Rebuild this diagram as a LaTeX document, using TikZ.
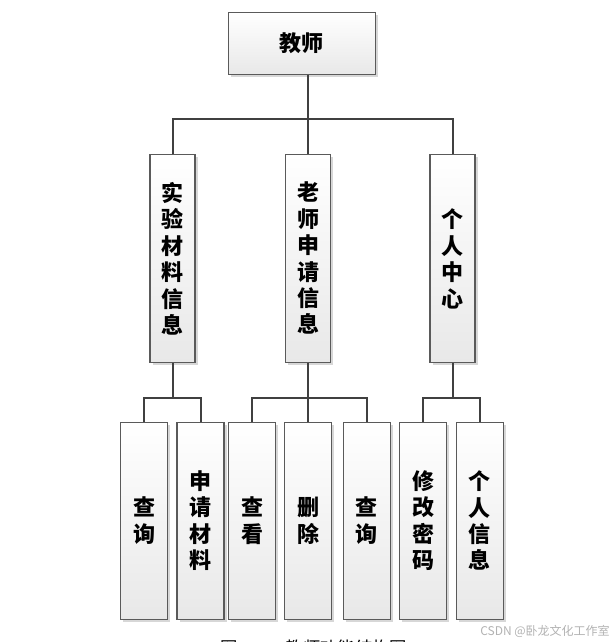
\documentclass[tikz,border=0pt]{standalone}
\usepackage{fontspec}
\newfontfamily\cjk{Noto Sans CJK SC}
\usetikzlibrary{shadows}
\definecolor{linegray}{HTML}{404040}
\definecolor{boxgray}{HTML}{5A5A5A}
\begin{document}
\begin{tikzpicture}[x=0.75pt, y=-0.75pt,
  box/.style={draw=boxgray, line width=0.8pt, rectangle, align=center, inner sep=0pt,
    top color=white, bottom color=black!9,
    drop shadow={shadow xshift=2pt, shadow yshift=-2pt, fill=black!35, opacity=0.45},
    font=\cjk\bfseries\fontsize{16.5}{19.8}\selectfont},
  tall/.style={box, minimum width=33.75pt, minimum height=156pt},
  leaf/.style={box, minimum width=35.25pt, minimum height=147.75pt},
  link/.style={draw=linegray, line width=1.5pt}]
\useasboundingbox (0,0) rectangle (616,642);
\node[box, minimum width=110.25pt, minimum height=46.5pt] (top) at (301.7,43.3) {教师};
\node[tall] (m1) at (172.5,258.8) {实\\验\\材\\料\\信\\息};
\node[tall] (m2) at (308.3,258.3) {老\\师\\申\\请\\信\\息};
\node[tall] (m3) at (452.5,258.8) {个\\人\\中\\心};
\node[leaf] (b1) at (144.3,520.7) {查\\询};
\node[leaf] (b2) at (200.5,520.7) {申\\请\\材\\料};
\node[leaf] (b3) at (252.3,520.7) {查\\看};
\node[leaf] (b4) at (308.3,520.7) {删\\除};
\node[leaf] (b5) at (366.7,520.7) {查\\询};
\node[leaf] (b6) at (423,520.7) {修\\改\\密\\码};
\node[leaf] (b7) at (479.7,520.7) {个\\人\\信\\息};
\coordinate (bus) at (308.3,119);
\coordinate (j1) at (172.5,397.7);
\coordinate (j2) at (308.3,397.7);
\coordinate (j3) at (452.5,397.7);
\draw[link] (top.south -| m2) -- (m2.north);
\draw[link] (m1.north) |- (bus) -| (m3.north);
\draw[link] (m1.south) -- (j1);
\draw[link] (b1.north) |- (j1) -| (b2.north);
\draw[link] (m2.south) -- (b4.north);
\draw[link] (b3.north) |- (j2) -| (b5.north);
\draw[link] (m3.south) -- (j3);
\draw[link] (b6.north) |- (j3) -| (b7.north);
\node[font=\cjk\fontsize{13}{15}\selectfont, anchor=north, inner sep=0pt] (cap) at (313.7,639.5) {图\hspace{2.8em}教师功能结构图};
\node[font=\cjk\fontsize{9}{10}\selectfont, text=black!30, anchor=east, inner sep=0pt] (mark) at (610,631) {CSDN @卧龙文化工作室};
\end{tikzpicture}
\end{document}
